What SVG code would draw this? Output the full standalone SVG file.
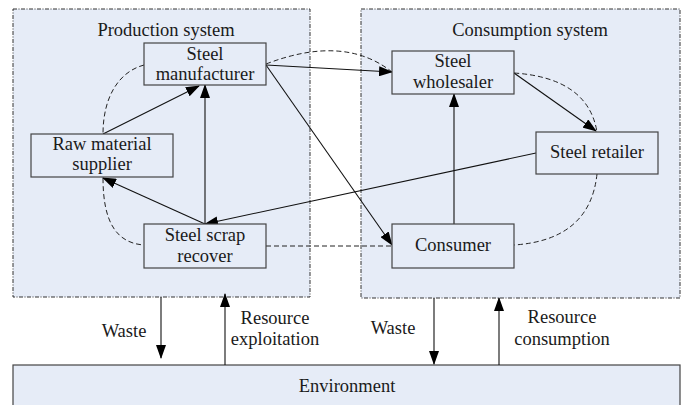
<svg xmlns="http://www.w3.org/2000/svg" width="686" height="405" viewBox="0 0 686 405" font-family="Liberation Serif, serif">
<style>
.sys{fill:#e6ecf7;stroke:#333;stroke-width:1;stroke-dasharray:4,1.5,1,1.5}
.node rect{fill:#e6ecf7;stroke:#444;stroke-width:1.2}
text{font-family:'Liberation Serif','Times New Roman',serif;font-size:18.5px;fill:#1a1a1a;text-anchor:middle}
.ln{fill:none;stroke:#111;stroke-width:1.1}
.dash{fill:none;stroke:#222;stroke-width:1;stroke-dasharray:5,3}
</style>
<defs>
<marker id="ah" markerUnits="userSpaceOnUse" markerWidth="14" markerHeight="10" viewBox="0 0 14 10" refX="13" refY="5" orient="auto">
<path d="M0,0 L14,5 L0,10 Z" fill="#000"/>
</marker>
</defs>
<g id="production-system">
<rect class="sys" x="13" y="9" width="297" height="288"/>
<text x="166" y="36">Production system</text>
</g>
<g id="consumption-system">
<rect class="sys" x="361" y="9" width="319" height="289"/>
<text x="530" y="36">Consumption system</text>
</g>
<g id="environment" class="node">
<rect x="13" y="365" width="667" height="50"/>
<text x="347" y="392">Environment</text>
</g>
<g id="connectors">
<path class="dash" d="M144,65 C118,72 103,98 103,134"/>
<path class="dash" d="M103,178 C103,220 115,243 144,245"/>
<path class="dash" d="M266,64 Q344,34 392,72"/>
<path class="dash" d="M514,73 Q588,78 597,132"/>
<path class="dash" d="M597,174 Q590,240 514,245"/>
<path class="dash" d="M266,246 L392,246"/>
<line class="ln" x1="103" y1="134" x2="199" y2="86" marker-end="url(#ah)"/>
<line class="ln" x1="205" y1="224" x2="205" y2="85" marker-end="url(#ah)"/>
<line class="ln" x1="205" y1="224" x2="103" y2="178" marker-end="url(#ah)"/>
<line class="ln" x1="536" y1="153" x2="205" y2="224" marker-end="url(#ah)"/>
<line class="ln" x1="266" y1="65" x2="392" y2="72" marker-end="url(#ah)"/>
<line class="ln" x1="266" y1="65" x2="392" y2="245" marker-end="url(#ah)"/>
<line class="ln" x1="514" y1="73" x2="596" y2="131" marker-end="url(#ah)"/>
<line class="ln" x1="454" y1="224" x2="454" y2="94" marker-end="url(#ah)"/>
<line class="ln" x1="161" y1="297" x2="161" y2="358" marker-end="url(#ah)"/>
<line class="ln" x1="225" y1="365" x2="225" y2="294" marker-end="url(#ah)"/>
<line class="ln" x1="434" y1="298" x2="434" y2="364" marker-end="url(#ah)"/>
<line class="ln" x1="499" y1="365" x2="499" y2="298" marker-end="url(#ah)"/>
</g>
<g id="steel-manufacturer" class="node">
<rect x="144" y="43" width="122" height="42"/>
<text x="205" y="60">Steel</text>
<text x="205" y="80">manufacturer</text>
</g>
<g id="raw-material-supplier" class="node">
<rect x="31" y="134" width="142" height="43"/>
<text x="102" y="150">Raw material</text>
<text x="102" y="170">supplier</text>
</g>
<g id="steel-scrap-recover" class="node">
<rect x="144" y="224" width="122" height="44"/>
<text x="205" y="241">Steel scrap</text>
<text x="205" y="262">recover</text>
</g>
<g id="steel-wholesaler" class="node">
<rect x="392" y="51" width="122" height="43"/>
<text x="453" y="67">Steel</text>
<text x="453" y="88">wholesaler</text>
</g>
<g id="steel-retailer" class="node">
<rect x="536" y="132" width="122" height="42"/>
<text x="597" y="158">Steel retailer</text>
</g>
<g id="consumer" class="node">
<rect x="392" y="224" width="122" height="44"/>
<text x="453" y="251">Consumer</text>
</g>
<g id="labels">
<text x="124" y="337">Waste</text>
<text x="275" y="324">Resource</text>
<text x="275" y="345">exploitation</text>
<text x="393" y="334">Waste</text>
<text x="562" y="323">Resource</text>
<text x="562" y="345">consumption</text>
</g>
</svg>
